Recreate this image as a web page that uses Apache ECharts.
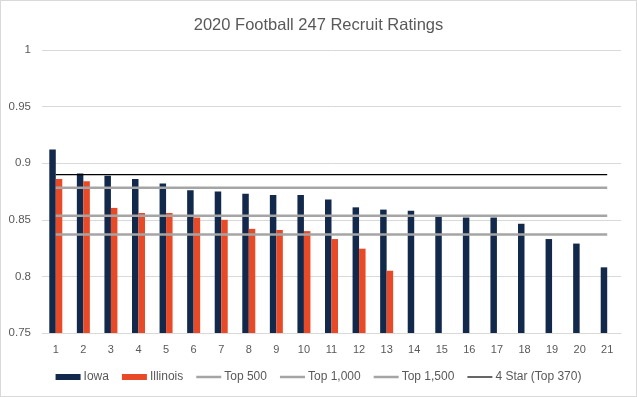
<!DOCTYPE html>
<html>
<head>
<meta charset="utf-8">
<script src="https://cdn.jsdelivr.net/npm/echarts@6/dist/echarts.min.js"></script>
<style>
  html, body { margin: 0; padding: 0; background: #fff; }
  #chart { width: 637px; height: 397px; box-sizing: border-box; border: 1px solid #d9d9d9; }
</style>
</head>
<body>
<div id="chart"></div>
<script>
// recruit index 1..21
const categories = ['1','2','3','4','5','6','7','8','9','10','11','12','13','14','15','16','17','18','19','20','21'];
const iowa = [0.912, 0.891, 0.889, 0.886, 0.882, 0.876, 0.875, 0.873, 0.872, 0.872, 0.868, 0.861, 0.859, 0.858, 0.853, 0.852, 0.852, 0.8465, 0.833, 0.829, 0.808];
const illinois = [0.886, 0.884, 0.8605, 0.856, 0.856, 0.852, 0.850, 0.842, 0.841, 0.840, 0.833, 0.8245, 0.805];
// reference ratings, flat across all recruits
const top500 = 0.8783;
const top1000 = 0.8535;
const top1500 = 0.8371;
const fourStar = 0.890;

const flat = v => categories.map(() => v);
const textColor = '#595959';
const font = 'Liberation Sans';
const thickLine = 'path://M0,0L25,0L25,2.5L0,2.5Z';
const thinLine = 'path://M0,0L25,0L25,1.2L0,1.2Z';

const chart = echarts.init(document.getElementById('chart'));

const lineSeries = (name, value, color, width) => ({
  name: name,
  type: 'line',
  data: flat(value),
  symbol: 'none',
  silent: true,
  lineStyle: { color: color, width: width },
  itemStyle: { color: color },
  z: 3
});

chart.setOption({
  animation: false,
  textStyle: { fontFamily: font },
  title: {
    text: '2020 Football 247 Recruit Ratings',
    left: 'center',
    top: 11,
    textStyle: { color: textColor, fontSize: 16.5, fontWeight: 'normal', fontFamily: font }
  },
  grid: { left: 41, right: 15, top: 49, bottom: 63 },
  legend: {
    bottom: 8,
    left: 'center',
    itemGap: 13,
    itemWidth: 25,
    itemHeight: 6,
    textStyle: { color: textColor, fontSize: 12, padding: [0, 0, 0, -2] },
    data: [
      { name: 'Iowa', icon: 'rect' },
      { name: 'Illinois', icon: 'rect' },
      { name: 'Top 500', icon: thickLine },
      { name: 'Top 1,000', icon: thickLine },
      { name: 'Top 1,500', icon: thickLine },
      { name: '4 Star (Top 370)', icon: thinLine }
    ]
  },
  xAxis: {
    type: 'category',
    data: categories,
    axisLine: { lineStyle: { color: '#d9d9d9' } },
    axisTick: { show: false },
    axisLabel: { color: textColor, fontSize: 11, margin: 11 }
  },
  yAxis: {
    type: 'value',
    min: 0.75,
    max: 1,
    interval: 0.05,
    axisLine: { show: false },
    axisTick: { show: false },
    axisLabel: { color: textColor, fontSize: 11.5, margin: 11 },
    splitLine: { lineStyle: { color: '#d9d9d9', width: 1 } }
  },
  series: [
    {
      name: 'Iowa',
      type: 'bar',
      data: iowa,
      barWidth: 6.5,
      barGap: '0%',
      itemStyle: { color: '#13294b' }
    },
    {
      name: 'Illinois',
      type: 'bar',
      data: illinois,
      barWidth: 6.5,
      barGap: '0%',
      itemStyle: { color: '#e84a27' }
    },
    lineSeries('Top 500', top500, '#a5a5a5', 2.5),
    lineSeries('Top 1,000', top1000, '#a5a5a5', 2.5),
    lineSeries('Top 1,500', top1500, '#a5a5a5', 2.5),
    lineSeries('4 Star (Top 370)', fourStar, '#000000', 1.25)
  ]
});
</script>
</body>
</html>
